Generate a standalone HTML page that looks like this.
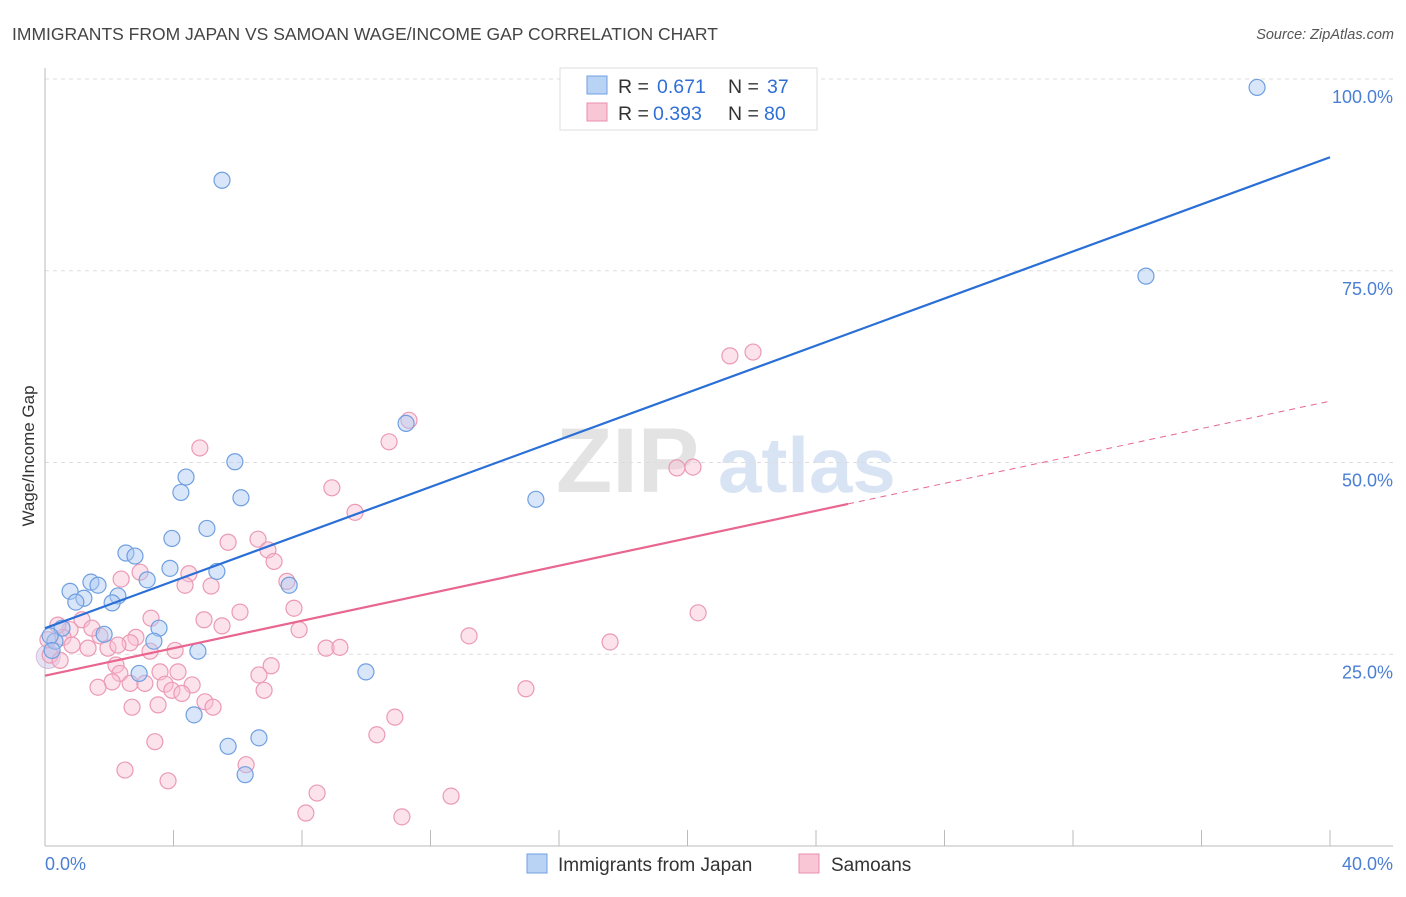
<!DOCTYPE html>
<html><head><meta charset="utf-8"><style>
body{margin:0;background:#fff;font-family:"Liberation Sans",sans-serif;}
svg text{font-family:"Liberation Sans",sans-serif;}
</style></head><body>
<svg id="chart" width="1406" height="892" viewBox="0 0 1406 892" xmlns="http://www.w3.org/2000/svg">
<text x="12" y="40" font-size="17.5" fill="#444">IMMIGRANTS FROM JAPAN VS SAMOAN WAGE/INCOME GAP CORRELATION CHART</text>
<text x="1394" y="39" font-size="14.5" fill="#555" text-anchor="end" font-style="italic">Source: ZipAtlas.com</text>
<g>
<text x="556" y="492" font-size="92" fill="#e3e3e3" font-family="Liberation Serif" font-weight="bold">ZIP</text>
<text x="718" y="492" font-size="78" fill="#d8e4f4" font-weight="bold">atlas</text>
</g>
<g id="grid"></g>
<g id="axes"></g>
<g id="marks"></g>
<text transform="translate(34,456) rotate(-90)" font-size="17" fill="#333" text-anchor="middle">Wage/Income Gap</text>
<text x="45" y="870" font-size="18" fill="#4a7fd4">0.0%</text>
<text x="1393" y="870" font-size="18" fill="#4a7fd4" text-anchor="end">40.0%</text>
<g>
<rect x="560" y="68" width="257" height="62" fill="#fff" stroke="#ddd"/>
<rect x="587" y="76" width="20" height="18" fill="#b9d3f5" stroke="#6f9fe0"/>
<rect x="587" y="103" width="20" height="18" fill="#f9c6d6" stroke="#eb8eab"/>
<text x="618" y="93" font-size="19.5" fill="#333">R =</text>
<text x="657" y="93" font-size="19.5" fill="#2f6fd6">0.671</text>
<text x="728" y="93" font-size="19.5" fill="#333">N =</text>
<text x="767" y="93" font-size="19.5" fill="#2f6fd6">37</text>
<text x="618" y="120" font-size="19.5" fill="#333">R =</text>
<text x="653" y="120" font-size="19.5" fill="#2f6fd6">0.393</text>
<text x="728" y="120" font-size="19.5" fill="#333">N =</text>
<text x="764" y="120" font-size="19.5" fill="#2f6fd6">80</text>
</g>
<g>
<rect x="527" y="854" width="20" height="19" fill="#b9d3f5" stroke="#6f9fe0"/>
<text x="558" y="871" font-size="19" fill="#333">Immigrants from Japan</text>
<rect x="799" y="854" width="20" height="19" fill="#f9c6d6" stroke="#eb8eab"/>
<text x="831" y="871" font-size="19" fill="#333">Samoans</text>
</g>
</svg>
<script>
const yTicks=[25,50,75,100];
const yTickLabels=["25.0%","50.0%","75.0%","100.0%"];
const xTicks=[0,4,8,12,16,20,24,28,32,36,40];
const japanX=[37.73,5.51,34.27,11.24,5.91,4.39,4.23,6.10,15.28,5.04,3.95,2.52,2.80,3.89,5.35,1.43,1.65,3.18,0.78,1.21,0.96,2.27,2.09,7.60,3.55,3.39,0.53,1.84,0.31,0.16,0.22,4.76,2.93,9.99,4.64,5.70,6.66,6.23];
const japanY=[98.9,86.8,74.3,55.1,50.1,48.1,46.1,45.4,45.2,41.4,40.1,38.2,37.8,36.2,35.8,34.4,34.0,34.7,33.2,32.3,31.8,32.6,31.7,34.0,28.4,26.7,28.4,27.6,26.7,27.4,25.5,25.4,22.5,22.7,17.1,13.0,14.1,9.3];
const samoanX=[22.04,21.32,11.33,10.71,4.82,19.67,20.17,8.93,9.65,5.70,6.63,6.94,7.13,2.96,2.37,4.48,4.36,5.17,7.53,6.07,7.75,3.30,4.95,5.51,7.91,20.33,13.20,17.59,8.75,9.18,1.15,0.78,0.56,1.71,1.46,2.83,2.65,4.05,1.96,2.27,1.34,0.40,3.27,2.21,3.58,4.14,2.33,7.04,6.66,2.09,2.65,3.11,3.74,4.58,1.65,3.95,4.26,6.82,14.97,2.71,3.52,4.98,5.23,10.89,10.33,3.42,2.49,6.26,3.83,8.47,8.12,12.64,11.11,0.16,0.09,0.47,0.84];
const samoanY=[64.4,63.9,55.5,52.7,51.9,49.3,49.4,46.7,43.5,39.6,40.0,38.6,37.1,35.7,34.8,35.5,34.0,33.9,34.5,30.5,31.0,29.7,29.5,28.7,28.2,30.4,27.4,26.6,25.8,25.9,29.5,28.2,27.2,27.4,28.4,27.2,26.5,25.5,25.8,26.2,25.8,28.8,25.4,23.6,22.7,22.7,22.5,23.5,22.3,21.4,21.2,21.2,21.1,21.0,20.7,20.3,19.9,20.3,20.5,18.1,18.4,18.8,18.1,16.8,14.5,13.6,9.9,10.6,8.5,6.9,4.3,6.5,3.8,24.9,26.9,24.2,26.2];
const japanTrend=[28.4,89.8];
const samoanTrend=[22.2,44.6,58.0];
const samoanSolidEnd=25.0;
const NS="http://www.w3.org/2000/svg";
const X0=45,X1=1330,Y0=846,Y100=79;
const sx=v=>X0+(X1-X0)*v/40;
const sy=v=>Y0-(Y0-Y100)*v/100;
function mk(tag,attrs,parent){const e=document.createElementNS(NS,tag);for(const k in attrs)e.setAttribute(k,attrs[k]);parent.appendChild(e);return e;}
const grid=document.getElementById('grid'),axes=document.getElementById('axes'),marks=document.getElementById('marks');
yTicks.forEach((t,i)=>{
 const l=mk('line',{x1:X0,x2:1393,y1:sy(t),y2:sy(t),stroke:'#ddd','stroke-dasharray':'4,4'},grid);
 
 
 const tx=mk('text',{x:1393,y:sy(t)+24,'font-size':18,fill:'#4a7fd4','text-anchor':'end'},grid);
 tx.textContent=yTickLabels[i];
 
 
});
const ya=mk('line',{x1:X0,x2:X0,y1:68,y2:Y0,stroke:'#bbb'},axes);


const xa=mk('line',{x1:X0,x2:1393,y1:Y0,y2:Y0,stroke:'#bbb'},axes);


xTicks.forEach(t=>{
 const l=mk('line',{x1:sx(t),x2:sx(t),y1:830,y2:Y0,stroke:'#bbb'},axes);
 
 
});
const big=mk('circle',{cx:sx(0.1),cy:sy(24.7),r:12,fill:'rgba(200,190,230,0.45)',stroke:'rgba(200,170,210,0.7)'},marks);


samoanX.forEach((x,i)=>{
 const c=mk('circle',{cx:sx(x),cy:sy(samoanY[i]),r:8,fill:'rgba(248,190,210,0.45)',stroke:'#eb9ab4','stroke-width':1.2},marks);
 
 
});
japanX.forEach((x,i)=>{
 const c=mk('circle',{cx:sx(x),cy:sy(japanY[i]),r:8,fill:'rgba(170,200,245,0.45)',stroke:'#6f9fe0','stroke-width':1.2},marks);
 
 
});
const bl=mk('line',{x1:sx(0),y1:sy(japanTrend[0]),x2:sx(40),y2:sy(japanTrend[1]),stroke:'#2a6fd6','stroke-width':2.2},marks);


const pl=mk('line',{x1:sx(0),y1:sy(samoanTrend[0]),x2:sx(samoanSolidEnd),y2:sy(samoanTrend[1]),stroke:'#e8668f','stroke-width':2.2},marks);


const pd=mk('line',{x1:sx(samoanSolidEnd),y1:sy(samoanTrend[1]),x2:sx(40),y2:sy(samoanTrend[2]),stroke:'#e8668f','stroke-width':1,'stroke-dasharray':'6,5'},marks);


</script>
</body></html>
